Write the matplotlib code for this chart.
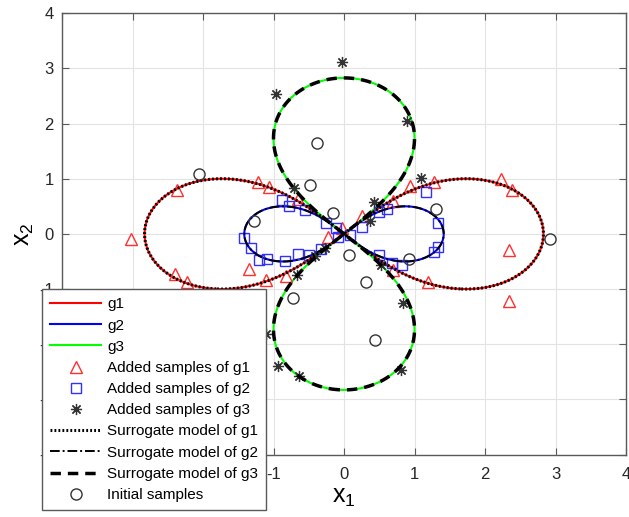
import numpy as np
import matplotlib.pyplot as plt
from matplotlib.lines import Line2D

plt.rcParams['font.family'] = ['Liberation Sans', 'DejaVu Sans']
plt.rcParams['axes.unicode_minus'] = False
plt.rcParams['mathtext.fontset'] = 'custom'
plt.rcParams['mathtext.rm'] = 'Liberation Sans'
plt.rcParams['mathtext.it'] = 'Liberation Sans'

# limit states: lemniscates (x1^2+x2^2)^2 - c*(x1^2 - x2^2) = 0, g3 turned by 90 deg
c_g1, c_g2, c_g3 = 8.0, 2.0, 8.0

# added samples of g1 (triangles)
g1_x = [-3.02, -2.37, -2.40, -2.23, -1.35, -1.11, -0.82, -1.22, -1.07, -0.65, -0.22,
        -0.03, 0.26, 0.69, 0.94, 1.27, 2.22, 2.39, 2.34, 2.34, 0.70, 1.19]
g1_y = [-0.10, 0.80, -0.73, -0.87, -0.63, -0.83, -0.77, 0.94, 0.85, 0.64, -0.06,
        0.10, 0.32, 0.60, 0.86, 0.94, 1.00, 0.80, -0.30, -1.22, -0.65, -0.88]

# added samples of g2 (squares)
g2_x = [-1.42, -1.32, -1.21, -1.09, -0.84, -0.65, -0.49, -0.32, -0.88, -0.78, -0.56,
        -0.25, -0.11, -0.09, 0.08, 0.26, 0.49, 0.61, 1.17, 1.34, 1.27, 1.34, 0.49, 0.68, 0.82]
g2_y = [-0.08, -0.26, -0.48, -0.45, -0.50, -0.36, -0.38, -0.27, 0.62, 0.50, 0.43,
        0.19, 0.10, -0.06, -0.02, 0.12, 0.40, 0.45, 0.76, 0.20, -0.32, -0.24, -0.38, -0.53, -0.56]

# added samples of g3 (asterisks)
g3_x = [-0.96, -0.03, 0.90, -0.71, 1.09, 0.42, 0.37, -0.27, -0.41, -0.66,
        -1.10, -0.94, -0.64, 0.52, 0.84, 0.81]
g3_y = [2.54, 3.12, 2.04, 0.83, 1.01, 0.58, 0.24, -0.26, -0.40, -0.74,
        -1.81, -2.40, -2.58, -0.56, -1.25, -2.46]

# initial samples (circles)
init_x = [-2.06, -0.38, -0.48, -1.27, -0.15, 1.30, 2.92, 0.07, 0.31, 0.92, 0.44, -0.72]
init_y = [1.09, 1.64, 0.88, 0.23, 0.37, 0.45, -0.10, -0.38, -0.87, -0.45, -1.93, -1.17]

ticks = [-4, -3, -2, -1, 0, 1, 2, 3, 4]

fig = plt.figure(figsize=(6.29, 5.17), dpi=100)
ax = fig.add_axes([62 / 629, 1 - 454.5 / 517, 564 / 629, 441.2 / 517])

gx = np.linspace(-4, 4, 1200)
X1, X2 = np.meshgrid(gx, gx)
R2 = X1 ** 2 + X2 ** 2
G1 = R2 ** 2 - c_g1 * (X1 ** 2 - X2 ** 2)
G2 = R2 ** 2 - c_g2 * (X1 ** 2 - X2 ** 2)
G3 = R2 ** 2 - c_g3 * (X2 ** 2 - X1 ** 2)

# true limit states
ax.contour(X1, X2, G1, levels=[0], colors='#ff0000', linewidths=1.5, zorder=2)
ax.contour(X1, X2, G2, levels=[0], colors='#0000ff', linewidths=1.5, zorder=2)
ax.contour(X1, X2, G3, levels=[0], colors='#00ff00', linewidths=1.5, zorder=2)

# samples
ax.plot(g1_x, g1_y, '^', ms=9, mfc='none', mec='#ff3030', mew=1.0, zorder=3)
ax.plot(g2_x, g2_y, 's', ms=7, mfc='none', mec='#3030ff', mew=1.0, zorder=3)
ax.plot(g3_x, g3_y, ls='none', marker=(8, 2, 0), ms=8, mec='#333333', mew=0.9, zorder=3)

# surrogate models
ax.contour(X1, X2, G1, levels=[0], colors='k', linewidths=2.2,
           linestyles=[(0, (0.6, 0.7))], zorder=4)
ax.contour(X1, X2, G2, levels=[0], colors='k', linewidths=1.4,
           linestyles=[(0, (5, 1.5, 1, 1.5))], zorder=4)
ax.contour(X1, X2, G3, levels=[0], colors='k', linewidths=2.5,
           linestyles=[(0, (3, 2))], zorder=4)

ax.plot(init_x, init_y, 'o', ms=8, mfc='none', mec='#333333', mew=1.0, zorder=5)

ax.set_xlim(-4, 4)
ax.set_ylim(-4, 4)
ax.set_xticks(ticks)
ax.set_yticks(ticks)
ax.grid(True, color='#e3e3e3', lw=0.8)
ax.set_axisbelow(True)
for s in ax.spines.values():
    s.set_color('#5a5a5a')
    s.set_linewidth(1.0)
ax.tick_params(direction='in', length=5, width=0.8, color='#5a5a5a',
               top=True, right=True, labelsize=12, labelcolor='#262626')
ax.tick_params(axis='x', pad=9)
ax.tick_params(axis='y', pad=6)
ax.set_xlabel(r'$\mathregular{x_1}$', fontsize=18, labelpad=2)
ax.set_ylabel(r'$\mathregular{x_2}$', fontsize=18, labelpad=2)

handles = [
    Line2D([], [], color='#ff0000', lw=1.5),
    Line2D([], [], color='#0000ff', lw=1.5),
    Line2D([], [], color='#00ff00', lw=1.5),
    Line2D([], [], ls='none', marker='^', ms=9, mfc='none', mec='#ff3030'),
    Line2D([], [], ls='none', marker='s', ms=7, mfc='none', mec='#3030ff'),
    Line2D([], [], ls='none', marker=(8, 2, 0), ms=8, mec='#333333', mew=0.9),
    Line2D([], [], color='k', lw=2.2, ls=(0, (0.6, 0.7))),
    Line2D([], [], color='k', lw=1.4, ls=(0, (5, 1.5, 1, 1.5))),
    Line2D([], [], color='k', lw=2.5, ls=(0, (3, 2))),
    Line2D([], [], ls='none', marker='o', ms=8, mfc='none', mec='#333333'),
]
labels = ['g1', 'g2', 'g3', 'Added samples of g1', 'Added samples of g2',
          'Added samples of g3', 'Surrogate model of g1', 'Surrogate model of g2',
          'Surrogate model of g3', 'Initial samples']
leg = fig.legend(handles, labels, loc='upper left', bbox_to_anchor=(42 / 629, 1 - 289 / 517),
                 bbox_transform=fig.transFigure, borderaxespad=0, fontsize=11,
                 fancybox=False, framealpha=1, edgecolor='#5a5a5a', handlelength=3.3,
                 handletextpad=0.4, labelspacing=0.47, borderpad=0.55, numpoints=1)
leg.get_frame().set_linewidth(1.0)

fig.savefig('out.png', dpi=100)
